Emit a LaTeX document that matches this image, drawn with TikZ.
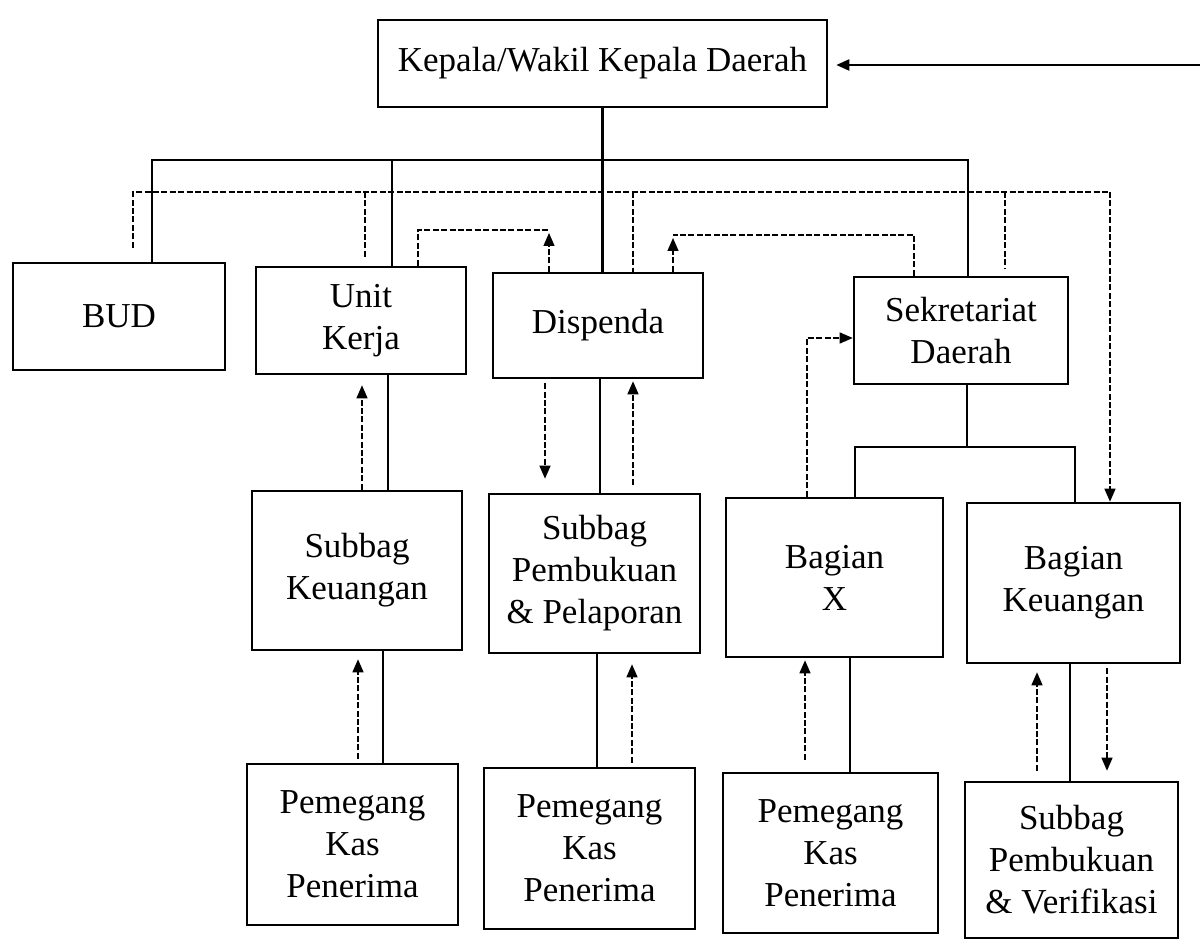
\documentclass[tikz,border=0pt]{standalone}
\usepackage{fontspec}
\setmainfont{Liberation Serif}
\usetikzlibrary{arrows.meta}
\begin{document}
\begin{tikzpicture}[x=0.5pt,y=-0.5pt,
  box/.style={draw, line width=1.3pt, align=center, inner sep=0pt,
    font=\fontsize{17.5}{21}\selectfont},
  sz/.style 2 args={minimum width=#1*0.5pt, minimum height=#2*0.5pt},
  org/.style={line width=1.1pt},
  flow/.style={line width=0.7pt, dash pattern=on 3pt off 1.2pt},
  tip/.style={-{Triangle[length=6.5pt,width=5.5pt]}},
]
\useasboundingbox (0,0) rectangle (1200,940);

% boxes
\node[box,sz={449}{87}]  (kdh)  at (602.5,63.5) {Kepala/Wakil Kepala Daerah};
\node[box,sz={212}{107}] (bud)  at (119,316.5)  {BUD};
\node[box,sz={210}{107}] (uk)   at (361,320.5)  {Unit\\Kerja};
\node[box,sz={210}{105}] (disp) at (598,325.5)  {Dispenda};
\node[box,sz={214}{107}] (sek)  at (961,330.5)  {Sekretariat\\Daerah};
\node[box,sz={210}{159}] (sk)   at (357,570.5)  {Subbag\\Keuangan};
\node[box,sz={211}{159}] (spp)  at (594.5,573.5) {Subbag\\Pembukuan\\\& Pelaporan};
\node[box,sz={217}{159}] (bx)   at (834.5,577.5) {Bagian\\X};
\node[box,sz={213}{160}] (bk)   at (1073.5,583) {Bagian\\Keuangan};
\node[box,sz={211}{161}] (pk1)  at (352.5,844.5) {Pemegang\\Kas\\Penerima};
\node[box,sz={211}{161}] (pk2)  at (589.5,848.5) {Pemegang\\Kas\\Penerima};
\node[box,sz={215}{160}] (pk3)  at (830.5,853)  {Pemegang\\Kas\\Penerima};
\node[box,sz={213}{156}] (spv)  at (1071.5,860) {Subbag\\Pembukuan\\\& Verifikasi};

% incoming report to the head of region
\coordinate (src) at (1200,65);
\draw[org,tip,shorten >=4pt] (src) -- (kdh.east |- src);

% line of command
\draw[org] (kdh.south) -- (kdh.south |- disp.north);
\draw[org] (152,0 |- bud.north) |- (968,160) -- (968,0 |- sek.north);
\draw[org] (392,160) -- (392,0 |- uk.north);
\draw[org] (388,0 |- uk.south) -- (388,0 |- sk.north);
\draw[org] (600,0 |- disp.south) -- (600,0 |- spp.north);
\draw[org] (383,0 |- sk.south) -- (383,0 |- pk1.north);
\draw[org] (597,0 |- spp.south) -- (597,0 |- pk2.north);
\draw[org] (967,0 |- sek.south) -- (967,447);
\draw[org] (855,0 |- bx.north) |- (1075,447) -- (1075,0 |- bk.north);
\draw[org] (850,0 |- bx.south) -- (850,0 |- pk3.north);
\draw[org] (1070,0 |- bk.south) -- (1070,0 |- spv.north);

% flow of reports and documents
\draw[flow,shorten <=7pt] (133,0 |- bud.north) |- (1110,192);
\draw[flow,tip] (1110,192) -- (1110,0 |- bk.north);
\draw[flow,shorten >=4pt] (365,192) -- (365,0 |- uk.north);
\draw[flow] (633,192) -- (633,0 |- disp.north);
\draw[flow,shorten >=4pt] (1005,192) -- (1005,0 |- sek.north);

\draw[flow] (418,0 |- uk.north) |- (549,230);
\draw[flow,tip] (549,0 |- disp.north) -- (549,233);
\draw[flow] (914,0 |- sek.north) |- (673,235);
\draw[flow,tip] (673,0 |- disp.north) -- (673,238);

\draw[flow,tip,shorten >=5pt] (362,0 |- sk.north) -- (362,0 |- uk.south);
\draw[flow,tip,shorten >=7pt,shorten <=2pt] (545,0 |- disp.south) -- (545,0 |- spp.north);
\draw[flow,tip,shorten >=1pt,shorten <=4pt] (633,0 |- spp.north) -- (633,0 |- disp.south);
\draw[flow,tip,shorten >=4pt,shorten <=2pt] (358,0 |- pk1.north) -- (358,0 |- sk.south);
\draw[flow,tip,shorten >=5pt,shorten <=2pt] (632,0 |- pk2.north) -- (632,0 |- spp.south);
\draw[flow,tip] (807,0 |- bx.north) |- (sek.west |- 0,338);
\draw[flow,tip,shorten >=1pt,shorten <=6pt] (805,0 |- pk3.north) -- (805,0 |- bx.south);
\draw[flow,tip,shorten >=4pt,shorten <=5pt] (1037,0 |- spv.north) -- (1037,0 |- bk.south);
\draw[flow,tip,shorten >=5pt,shorten <=2pt] (1107,0 |- bk.south) -- (1107,0 |- spv.north);
\end{tikzpicture}
\end{document}
